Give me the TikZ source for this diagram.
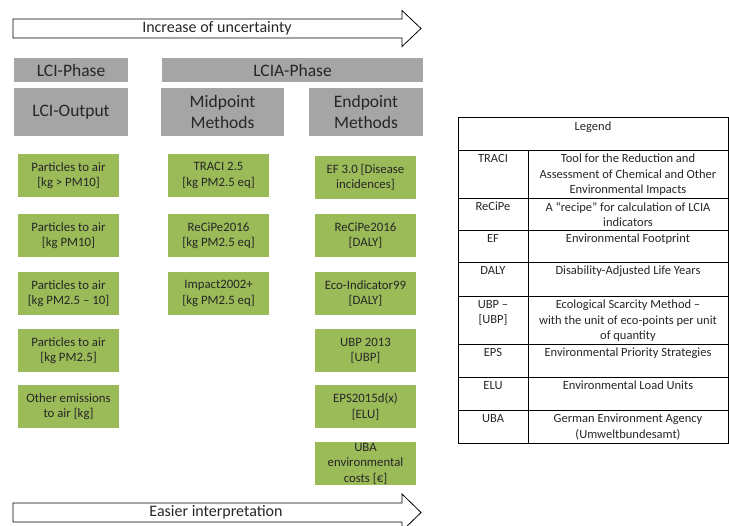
\documentclass[tikz,border=0pt]{standalone}
\usepackage{fontspec}
\setmainfont{Carlito}
\usetikzlibrary{positioning}
\definecolor{olivebox}{HTML}{9BBB59}
\definecolor{greybox}{HTML}{A5A5A5}
\definecolor{inkgrey}{HTML}{262626}
\begin{document}
\begin{tikzpicture}[x=1pt,y=-1pt,
    phase/.style={fill=greybox,text=inkgrey,inner sep=0pt,align=center,
      font=\fontsize{17.5}{21}\selectfont},
    method/.style={fill=olivebox,text=inkgrey,inner sep=0pt,align=center,
      minimum width=101pt,minimum height=43pt,
      font=\fontsize{12.8}{15.5}\selectfont},
    legtext/.style={anchor=north,inner sep=0pt,align=center,text=inkgrey,
      font=\fontsize{12.5}{15.5}\selectfont},
    arrowlabel/.style={inner sep=0pt,text=inkgrey,font=\fontsize{16}{19}\selectfont}]
  \useasboundingbox (0,0) rectangle (729,526);
  % arrows
  \draw[line width=0.8pt,line join=miter]
    (13,19) -- (402,19) -- (402,10.5) -- (421,28.5) -- (402,46.5)
    -- (402,38) -- (13,38) -- cycle;
  \node[arrowlabel] (uncert) at (217,28.5) {Increase of uncertainty};
  \draw[line width=0.8pt,line join=miter]
    (13,503) -- (402,503) -- (402,494) -- (421,512.5) -- (402,531)
    -- (402,522) -- (13,522) -- cycle;
  \node[arrowlabel] (interp) at (216,512.5) {Easier interpretation};
  % phases
  \node[phase,minimum width=114pt,minimum height=24pt] (lci) at (71,70) {LCI-Phase};
  \node[phase,minimum width=261pt,minimum height=24pt] (lcia) at (292.5,70) {LCIA-Phase};
  \node[phase,minimum width=114pt,minimum height=48pt] (output) at (71,112) {LCI-Output};
  \node[phase,minimum width=123pt,minimum height=48pt] (midpoint) at (222.5,112) {Midpoint\\Methods};
  \node[phase,minimum width=114pt,minimum height=48pt] (endpoint) at (366,112) {Endpoint\\Methods};
  % LCI output
  \node[method] (out1) at (68.5,175.5) {Particles to air\\{}[kg > PM10]};
  \node[method] (out2) at (68.5,235.5) {Particles to air\\{}[kg PM10]};
  \node[method] (out3) at (68.5,293.5) {Particles to air\\{}[kg PM2.5 – 10]};
  \node[method] (out4) at (68.5,350.5) {Particles to air\\{}[kg PM2.5]};
  \node[method] (out5) at (68.5,406.5) {Other emissions\\to air [kg]};
  % midpoint methods
  \node[method] (mid1) at (218.5,175.5) {TRACI 2.5\\{}[kg PM2.5 eq]};
  \node[method] (mid2) at (218.5,235.5) {ReCiPe2016\\{}[kg PM2.5 eq]};
  \node[method] (mid3) at (218.5,293.5) {Impact2002+\\{}[kg PM2.5 eq]};
  % endpoint methods
  \node[method] (end1) at (365.5,177.5) {EF 3.0 [Disease\\incidences]};
  \node[method] (end2) at (365.5,235.5) {ReCiPe2016\\{}[DALY]};
  \node[method] (end3) at (365.5,293.5) {Eco-Indicator99\\{}[DALY]};
  \node[method] (end4) at (365.5,350.5) {UBP 2013\\{}[UBP]};
  \node[method] (end5) at (365.5,406.5) {EPS2015d(x)\\{}[ELU]};
  \node[method] (end6) at (365.5,463.5) {UBA\\environmental\\costs [€]};
  % legend table
  \draw[line width=0.8pt] (458,117) rectangle (728,443);
  \draw[line width=0.8pt]
    (458,150) -- (728,150)
    (458,198) -- (728,198)
    (458,230) -- (728,230)
    (458,262) -- (728,262)
    (458,296) -- (728,296)
    (458,344) -- (728,344)
    (458,377) -- (728,377)
    (458,410) -- (728,410)
    (528,150) -- (528,443);
  \node[legtext] (legend) at (593,122) {Legend};
  \node[legtext] (traci) at (493,154) {TRACI};
  \node[legtext] (tracidef) at (628,154) {Tool for the Reduction and\\Assessment of Chemical and Other\\Environmental Impacts};
  \node[legtext] (recipe) at (493,202) {ReCiPe};
  \node[legtext] (recipedef) at (628,202) {A “recipe” for calculation of LCIA\\indicators};
  \node[legtext] (ef) at (493,234) {EF};
  \node[legtext] (efdef) at (628,234) {Environmental Footprint};
  \node[legtext] (daly) at (493,266) {DALY};
  \node[legtext] (dalydef) at (628,266) {Disability-Adjusted Life Years};
  \node[legtext] (ubp) at (493,300) {UBP –\\{}[UBP]};
  \node[legtext] (ubpdef) at (628,300) {Ecological Scarcity Method –\\with the unit of eco-points per unit\\of quantity};
  \node[legtext] (eps) at (493,348) {EPS};
  \node[legtext] (epsdef) at (628,348) {Environmental Priority Strategies};
  \node[legtext] (elu) at (493,381) {ELU};
  \node[legtext] (eludef) at (628,381) {Environmental Load Units};
  \node[legtext] (uba) at (493,414) {UBA};
  \node[legtext] (ubadef) at (628,414) {German Environment Agency\\(Umweltbundesamt)};
\end{tikzpicture}
\end{document}
